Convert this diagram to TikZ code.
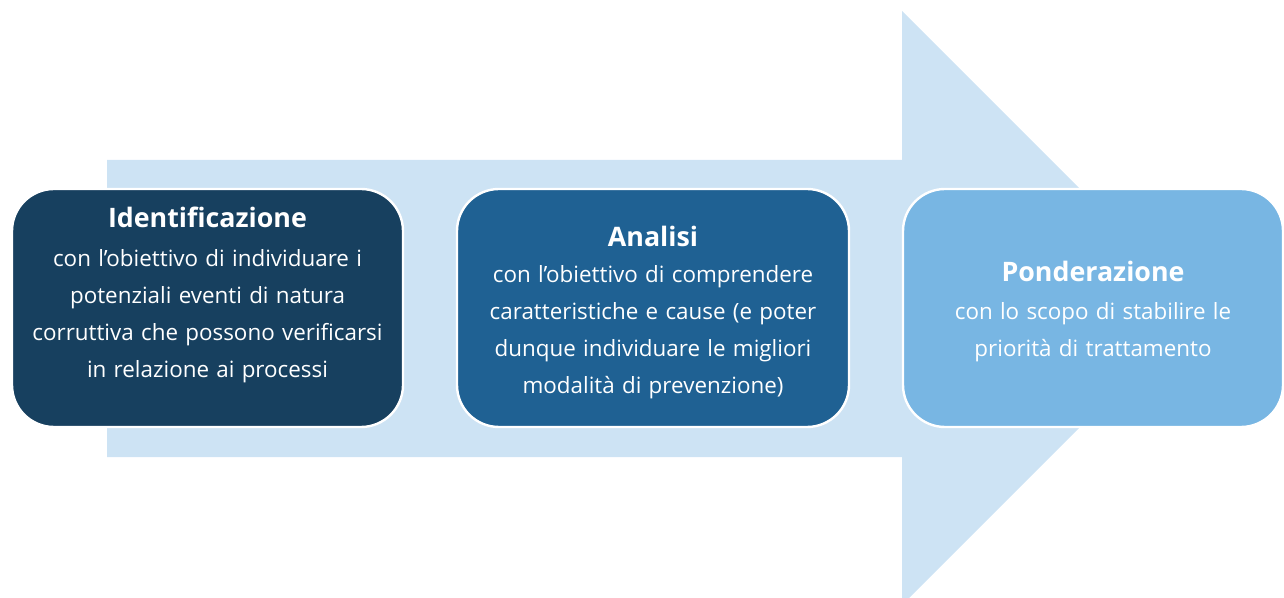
\documentclass[tikz,border=0pt]{standalone}
\usepackage{fontspec}
\setmainfont{Open Sans}[WordSpace={1.25,1,1}]
\definecolor{arrowc}{HTML}{CDE3F4}
\definecolor{boxa}{HTML}{17405F}
\definecolor{boxb}{HTML}{1F6193}
\definecolor{boxc}{HTML}{78B6E3}
\tikzset{
  stepbox/.style={draw=white, line width=1.2pt, rounded corners=21pt, inner sep=0pt},
  txt/.style={text=white, align=center, inner sep=0pt,
    font=\fontsize{11.2}{18.5}\selectfont},
}
\newcommand{\ttl}[1]{{\fontsize{13.4}{18.5}\selectfont\bfseries #1}}
\begin{document}
\begin{tikzpicture}[x=0.5pt, y=-0.5pt]
\useasboundingbox (0,0) rectangle (1284,598);
\clip (0,0) rectangle (1284,598);
% big arrow
\fill[arrowc] (107,160) -- (902,160) -- (902,11) -- (1199,308) -- (902,605)
  -- (902,457) -- (107,457) -- cycle;
% boxes
\node[stepbox, fill=boxa, minimum width=195.5pt, minimum height=119pt] (b1) at (207.5,308) {};
\node[stepbox, fill=boxb, minimum width=196pt, minimum height=119pt] (b2) at (653,308) {};
\node[stepbox, fill=boxc, minimum width=190pt, minimum height=119pt] (b3) at (1093,308) {};
% texts
\node[txt] (t1) at (207.5,295) {\ttl{Identificazione}\\[1pt]
  con l’obiettivo di individuare i\\
  potenziali eventi di natura\\
  corruttiva che possono verificarsi\\
  in relazione ai processi};
\node[txt] (t2) at (653,313) {\ttl{Analisi}\\[-0.5pt]
  con l’obiettivo di comprendere\\
  caratteristiche e cause (e poter\\
  dunque individuare le migliori\\
  modalità di prevenzione)};
\node[txt] (t3) at (1093,312) {\ttl{Ponderazione}\\[0.5pt]
  con lo scopo di stabilire le\\
  priorità di trattamento};
\end{tikzpicture}
\end{document}
